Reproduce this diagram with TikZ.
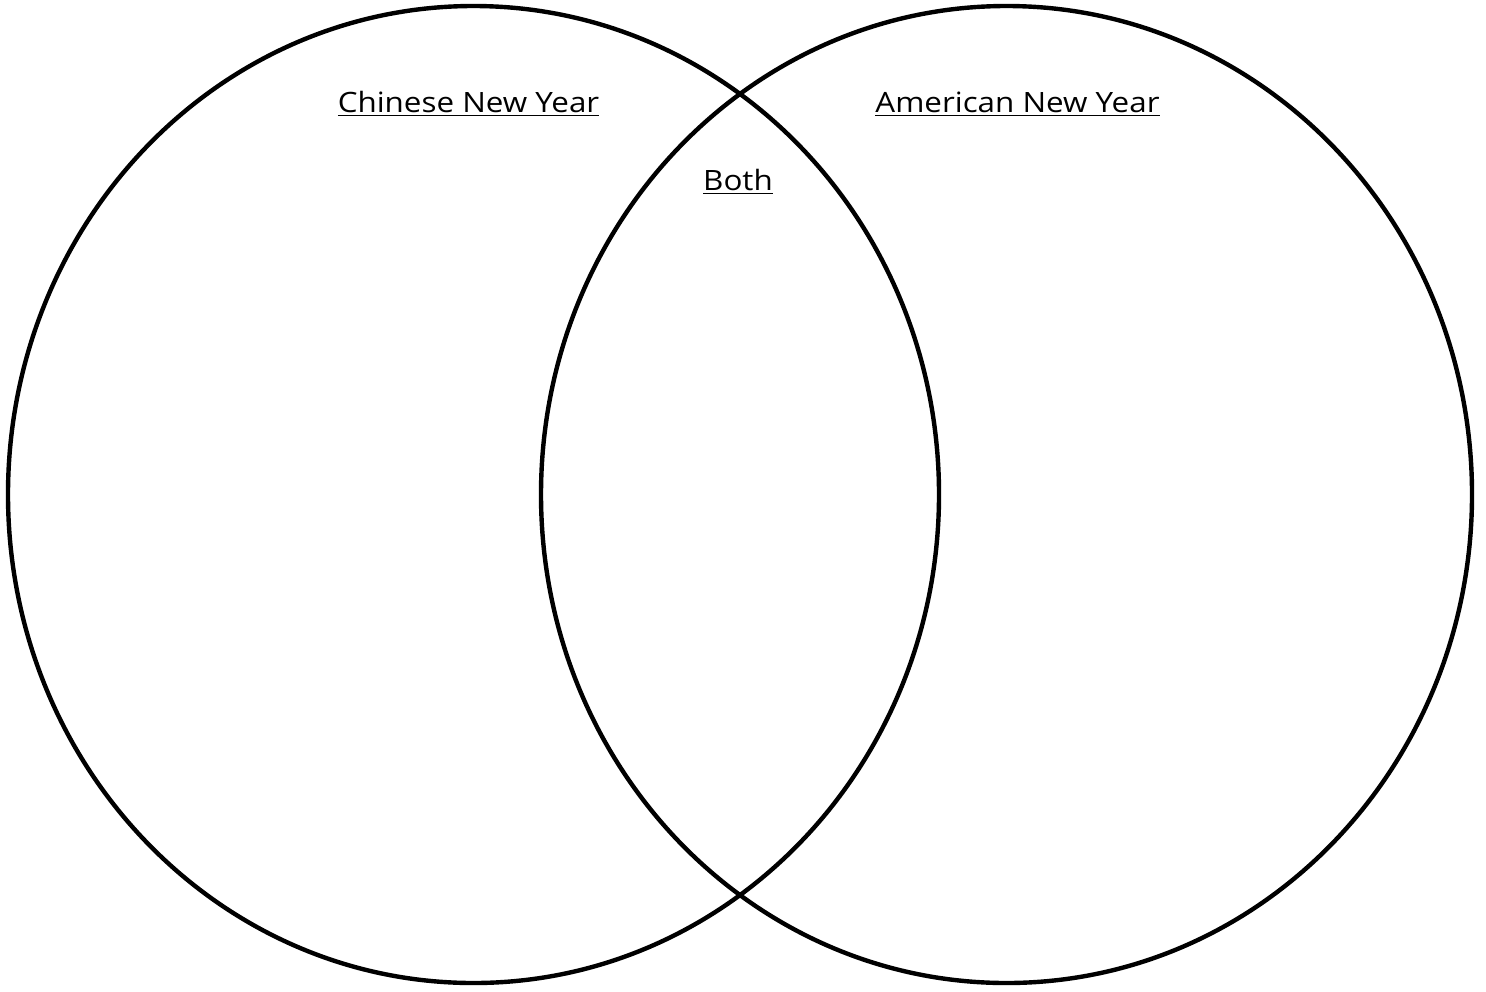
\documentclass[tikz,border=0pt]{standalone}
\usepackage{fontspec}
\setsansfont[FakeStretch=1.12]{Open Sans}
\usetikzlibrary{positioning}

\begin{document}
\begin{tikzpicture}[
    x=0.5pt, y=-0.5pt,
    % --- Global styles ---
    every node/.style={font=\sffamily\fontsize{14}{16}\selectfont},
    % --- Set outlines ---
    set/.style={draw, line width=2.2pt},
    % --- Heading labels ---
    heading/.style={anchor=base, inner sep=0pt},
  ]

  \useasboundingbox (0,0) rectangle (1486,991);

  %% ---- Sets ----

  % Chinese New Year (left)
  \draw[set] (473.5,494.5) ellipse [x radius=232.75pt, y radius=244.25pt];

  % American New Year (right)
  \draw[set] (1006.5,494.5) ellipse [x radius=232.75pt, y radius=244.25pt];

  %% ---- Headings ----

  \node[heading] (chinese) at (468.5,112) {\underline{Chinese New Year}};
  \node[heading] (american) at (1017.5,112) {\underline{American New Year}};
  \node[heading] (both) at (738,190) {\underline{Both}};

\end{tikzpicture}
\end{document}
